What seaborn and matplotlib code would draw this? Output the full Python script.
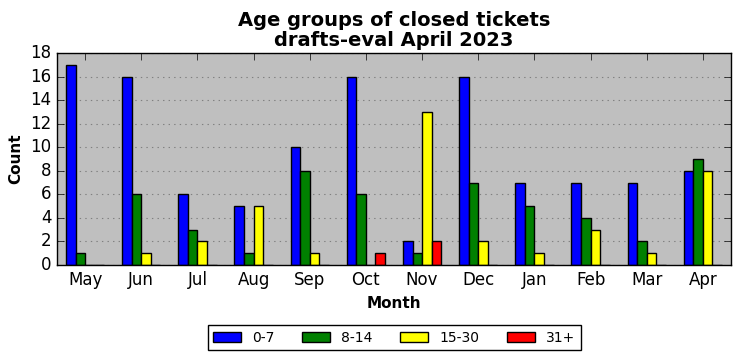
import matplotlib
matplotlib.use("Agg")
import matplotlib.pyplot as plt
import seaborn as sns
import pandas as pd

months = ["May", "Jun", "Jul", "Aug", "Sep", "Oct", "Nov", "Dec", "Jan", "Feb", "Mar", "Apr"]
age_groups = ["0-7", "8-14", "15-30", "31+"]
g_0_7 = [17, 16, 6, 5, 10, 16, 2, 16, 7, 7, 7, 8]
g_8_14 = [1, 6, 3, 1, 8, 6, 1, 7, 5, 4, 2, 9]
g_15_30 = [0, 1, 2, 5, 1, 0, 13, 2, 1, 3, 1, 8]
g_31_plus = [0, 0, 0, 0, 0, 1, 2, 0, 0, 0, 0, 0]
colors = ["blue", "green", "yellow", "red"]

rows = []
for grp, vals in zip(age_groups, [g_0_7, g_8_14, g_15_30, g_31_plus]):
    for m, v in zip(months, vals):
        rows.append({"Month": m, "Count": v, "Age": grp})
df = pd.DataFrame(rows)

plt.style.use("classic")
sns.set_style("ticks", {"xtick.direction": "in", "ytick.direction": "in",
                        "text.color": "black", "axes.labelcolor": "black",
                        "xtick.color": "black", "ytick.color": "black"})
plt.rcParams["font.family"] = ["DejaVu Sans"]

fig = plt.figure(figsize=(7.41, 3.61), dpi=100, facecolor="white")
ax = fig.add_axes([57 / 741, 1 - 265 / 361, 674 / 741, 212 / 361])
ax.set_facecolor("#bfbfbf")

sns.barplot(data=df, x="Month", y="Count", hue="Age", order=months,
            hue_order=age_groups, palette=colors, width=0.68, gap=0,
            edgecolor="black", linewidth=1.0, saturation=1, ax=ax)

ax.set_xlim(-0.5, 11.5)
ax.set_ylim(0, 18)
ax.set_yticks(range(0, 19, 2))
ax.yaxis.grid(True, linestyle=":", color="#808080", linewidth=0.8)
ax.set_axisbelow(True)
ax.tick_params(axis="both", which="both", direction="in", top=True, right=True,
               labelsize=12, length=5, color="black", labelcolor="black")
for s in ax.spines.values():
    s.set_color("black")
    s.set_linewidth(1.0)

ax.set_title("Age groups of closed tickets\ndrafts-eval April 2023",
             fontsize=14, fontweight="bold", linespacing=1.1, color="black")
ax.set_xlabel("Month", fontsize=11, fontweight="bold", color="black")
ax.set_ylabel("Count", fontsize=11, fontweight="bold", color="black")

leg = ax.legend(loc="upper center", bbox_to_anchor=(0.5, -0.25), ncol=4,
                fontsize=10, frameon=True, fancybox=False, edgecolor="black",
                columnspacing=2.0, handlelength=2.0, title=None)
for t in leg.get_texts():
    t.set_color("black")

fig.savefig("out.png", dpi=100, facecolor="white")
